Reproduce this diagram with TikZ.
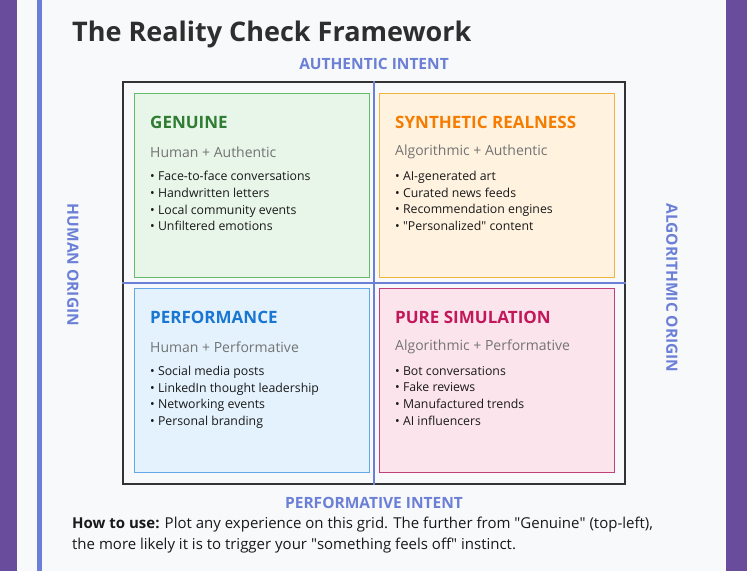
\documentclass[tikz,border=0pt]{standalone}
\usepackage{fontspec}
\setmainfont{Open Sans}
\begin{document}
\begin{tikzpicture}[x=1pt,y=-1pt,
  axislab/.style={font=\bfseries\fontsize{15.5}{18}\selectfont,inner sep=0},
  qtitle/.style={anchor=west,font=\bfseries\fontsize{17}{20}\selectfont,inner sep=0},
  qsub/.style={anchor=west,font=\fontsize{14}{16}\selectfont,text=black!55,inner sep=0},
  qlist/.style={anchor=north west,align=left,font=\fontsize{12.3}{16.7}\selectfont,text=black!90,inner sep=0}]
\definecolor{purp}{HTML}{6A4C9C}
\definecolor{card}{HTML}{F8F9FB}
\definecolor{axis}{HTML}{6B7FD7}
\definecolor{gfill}{HTML}{E8F5E9}\definecolor{gline}{HTML}{66BB6A}\definecolor{gtext}{HTML}{2E7D32}
\definecolor{ofill}{HTML}{FFF3E0}\definecolor{oline}{HTML}{F2B33D}\definecolor{otext}{HTML}{F57C00}
\definecolor{bfill}{HTML}{E3F2FD}\definecolor{bline}{HTML}{64A6E6}\definecolor{btext}{HTML}{1976D2}
\definecolor{pfill}{HTML}{FCE4EC}\definecolor{pline}{HTML}{C2407A}\definecolor{ptext}{HTML}{C2185B}
\tikzset{axislab/.append style={text=axis}}
\useasboundingbox (0,0) rectangle (747,571);
\fill[purp] (0,0) rectangle (747,571);
\fill[card] (17,0) rectangle (726,571);
\fill[axis] (37,0) rectangle (42,571);
\node[anchor=west,inner sep=0,font=\bfseries\fontsize{27}{31}\selectfont,text=black!82] (title) at (72,34) {The Reality Check Framework};
\node[axislab] (top) at (374,64) {AUTHENTIC INTENT};
\node[axislab] (bot) at (374,503) {PERFORMATIVE INTENT};
\node[axislab,rotate=-90] (left) at (73,265) {HUMAN ORIGIN};
\node[axislab,rotate=-90] (right) at (672,288) {ALGORITHMIC ORIGIN};
\node[draw=black!80,line width=1.5pt,minimum width=502,minimum height=402,inner sep=0] (grid) at (374,283) {};
\draw[axis,line width=1.2pt] (grid.north) -- (grid.south);
\draw[axis,line width=1.2pt] (grid.west) -- (grid.east);
% quadrants
\node[draw=gline,fill=gfill,minimum width=235,minimum height=184,inner sep=0] (q1) at (251.5,185) {};
\node[draw=oline,fill=ofill,minimum width=235,minimum height=184,inner sep=0] (q2) at (496.5,185) {};
\node[draw=bline,fill=bfill,minimum width=235,minimum height=184,inner sep=0] (q3) at (251.5,380) {};
\node[draw=pline,fill=pfill,minimum width=235,minimum height=184,inner sep=0] (q4) at (496.5,380) {};
\node[qtitle,text=gtext] (t1) at (150,122) {GENUINE};
\node[qsub] (s1) at (150,152) {Human + Authentic};
\node[qlist] (l1) at (150,171) {• Face-to-face conversations\\• Handwritten letters\\• Local community events\\• Unfiltered emotions};
\node[qtitle,text=otext] (t2) at (395,122) {SYNTHETIC REALNESS};
\node[qsub] (s2) at (395,152) {Algorithmic + Authentic};
\node[qlist] (l2) at (395,171) {• AI-generated art\\• Curated news feeds\\• Recommendation engines\\• \textquotedbl Personalized\textquotedbl{} content};
\node[qtitle,text=btext] (t3) at (150,317) {PERFORMANCE};
\node[qsub] (s3) at (150,347) {Human + Performative};
\node[qlist] (l3) at (150,366) {• Social media posts\\• LinkedIn thought leadership\\• Networking events\\• Personal branding};
\node[qtitle,text=ptext] (t4) at (395,317) {PURE SIMULATION};
\node[qsub] (s4) at (395,347) {Algorithmic + Performative};
\node[qlist] (l4) at (395,366) {• Bot conversations\\• Fake reviews\\• Manufactured trends\\• AI influencers};
\node[anchor=north west,align=left,inner sep=0,font=\fontsize{15}{21}\selectfont,text=black!90] (how) at (72,517) {\textbf{How to use:} Plot any experience on this grid. The further from \textquotedbl Genuine\textquotedbl{} (top-left),\\the more likely it is to trigger your \textquotedbl something feels off\textquotedbl{} instinct.};
\end{tikzpicture}
\end{document}
